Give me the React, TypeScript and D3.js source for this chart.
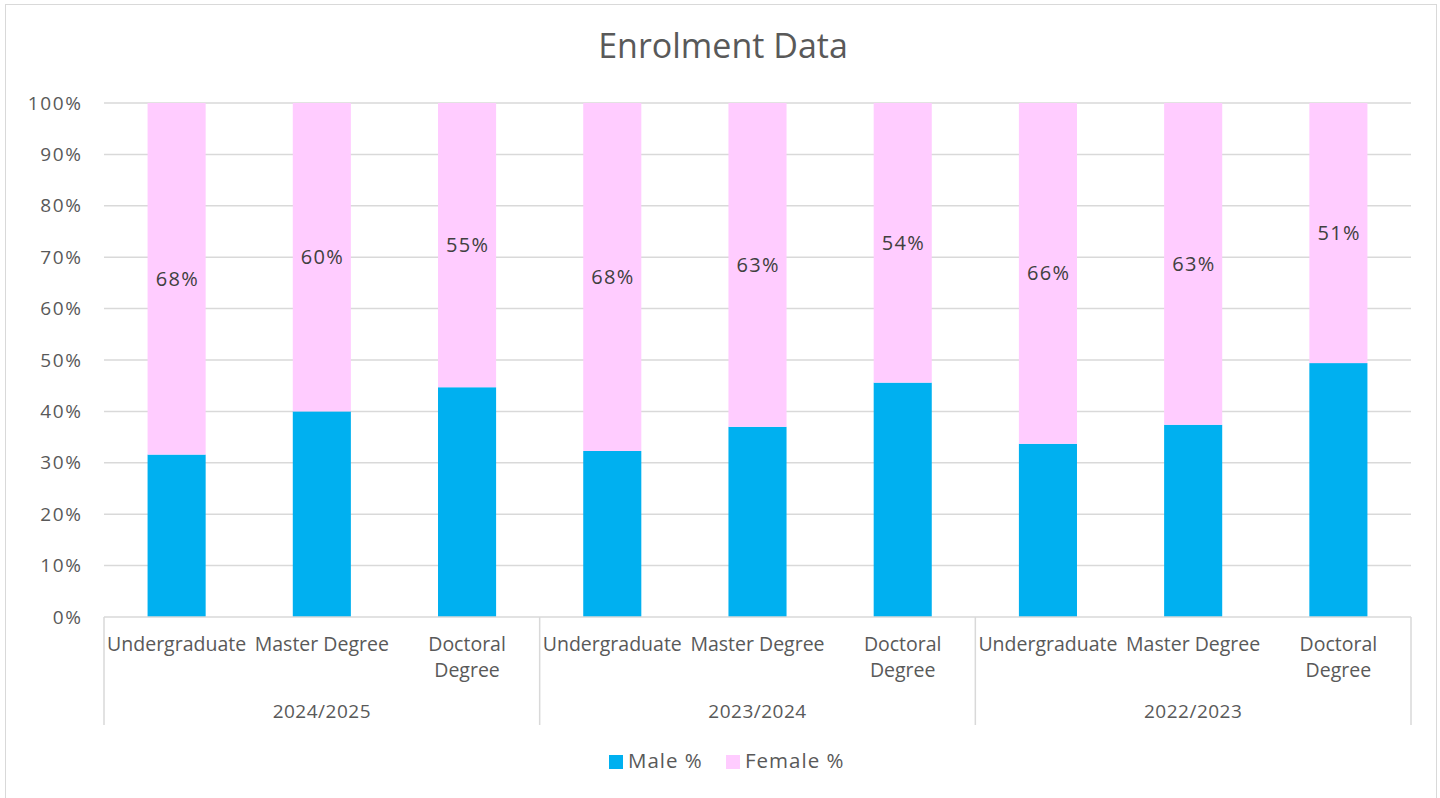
import React from "react";
import * as d3 from "d3";

const years = ["2024/2025", "2023/2024", "2022/2023"];
const levels = ["Undergraduate", "Master Degree", "Doctoral Degree"];
const malePct = [31.6, 40.0, 44.7, 32.3, 37.0, 45.6, 33.7, 37.4, 49.4];
const femalePct = [68.4, 60.0, 55.3, 67.7, 63.0, 54.4, 66.3, 62.6, 50.6];
const yTicks = [0, 10, 20, 30, 40, 50, 60, 70, 80, 90, 100];

const W = 1440, H = 798;
const left = 104, right = 1411, top = 103, bottom = 617;
const MALE = "#00B0F0", FEMALE = "#FFCCFF";
const TXT = "#595959";
const FONT = "'Open Sans', 'Noto Sans', sans-serif";

export default function App() {
  const cats = years.flatMap((y) => levels.map((l) => `${y}|${l}`));
  const x = d3.scaleBand().domain(cats).range([left, right]).paddingInner(0.6).paddingOuter(0.3);
  const band = (right - left) / cats.length;
  const y = d3.scaleLinear().domain([0, 100]).range([bottom, top]);
  const groupW = band * levels.length;

  return (
    <svg width={W} height={H} style={{ position: "absolute", left: 0, top: 0, fontFamily: FONT }}>
      <rect x={0} y={0} width={W} height={H} fill="#fff" />
      <rect x={5.5} y={4.5} width={1431} height={800} fill="none" stroke="#D9D9D9" strokeWidth={1} />
      <text x={723} y={58} textAnchor="middle" fontSize={34} fill={TXT}>Enrolment Data</text>
      {yTicks.map((t) => (
        <g key={t}>
          {t > 0 && <line x1={left} x2={right} y1={y(t)} y2={y(t)} stroke="#D9D9D9" strokeWidth={1.5} />}
          <text x={82.5} y={y(t) + 6.5} textAnchor="end" fontSize={19} letterSpacing={1.6} fill={TXT}>{t}%</text>
        </g>
      ))}
      {cats.map((c, i) => {
        const x0 = x(c)!;
        const bw = x.bandwidth();
        const m = malePct[i], f = femalePct[i];
        return (
          <g key={c}>
            <rect x={x0} y={y(m)} width={bw} height={y(0) - y(m)} fill={MALE} />
            <rect x={x0} y={y(m + f)} width={bw} height={y(m) - y(m + f)} fill={FEMALE} />
            <text x={x0 + bw / 2 + 0.7} y={(y(m) + y(m + f)) / 2 + 7} textAnchor="middle" fontSize={20} letterSpacing={1.3} fill="#404040">
              {Math.round(f)}%
            </text>
          </g>
        );
      })}
      <line x1={left} x2={right} y1={bottom} y2={bottom} stroke="#D9D9D9" strokeWidth={1.5} />
      {years.map((yr, gi) => (
        <line key={"sep" + gi} x1={left + gi * groupW} x2={left + gi * groupW} y1={bottom} y2={725} stroke="#D9D9D9" strokeWidth={1.5} />
      ))}
      <line x1={right} x2={right} y1={bottom} y2={725} stroke="#D9D9D9" strokeWidth={1.5} />
      {cats.map((c, i) => {
        const cx = x(c)! + x.bandwidth() / 2;
        const lvl = levels[i % 3];
        const parts = lvl === "Doctoral Degree" ? ["Doctoral", "Degree"] : [lvl];
        return (
          <text key={"lbl" + c} textAnchor="middle" fontSize={19.5} fill={TXT}>
            {parts.map((p, k) => (
              <tspan key={k} x={cx} y={651 + k * 26}>{p}</tspan>
            ))}
          </text>
        );
      })}
      {years.map((yr, gi) => (
        <text key={yr} x={left + gi * groupW + groupW / 2} y={718} textAnchor="middle" fontSize={19} letterSpacing={0.5} fill={TXT}>{yr}</text>
      ))}
      <rect x={609} y={755} width={14} height={14} fill={MALE} />
      <text x={628} y={768} fontSize={20.5} letterSpacing={1} fill={TXT}>Male %</text>
      <rect x={726} y={755} width={14} height={14} fill={FEMALE} />
      <text x={745} y={768} fontSize={20.5} letterSpacing={1} fill={TXT}>Female %</text>
    </svg>
  );
}
